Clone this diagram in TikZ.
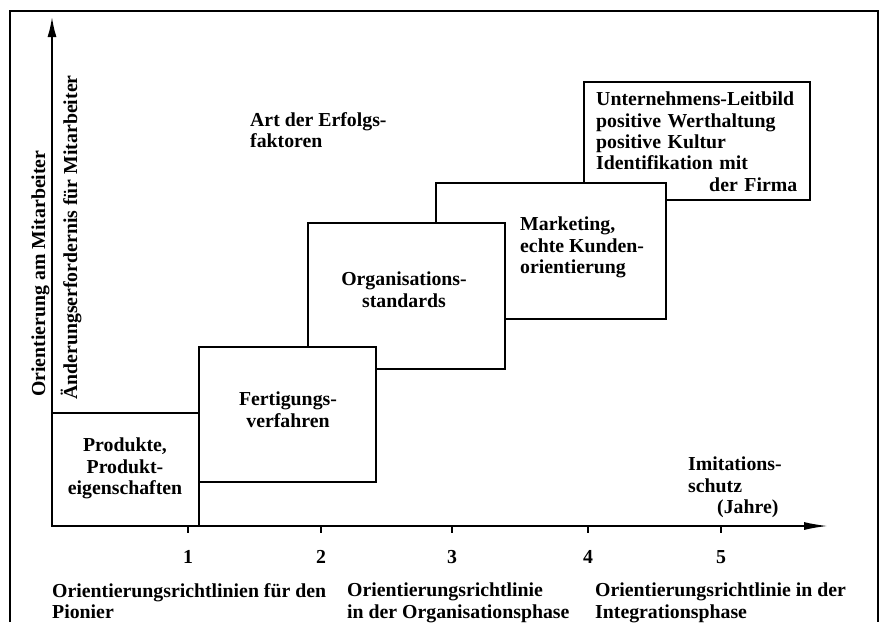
\documentclass[tikz,border=0pt]{standalone}
\usepackage{fontspec}
\setmainfont{Liberation Serif}
\usetikzlibrary{arrows.meta}

\tikzset{
  box/.style={draw, line width=2.1pt, fill=white},
  lbl/.style={inner sep=0pt, font=\fontsize{19.8}{21.3}\selectfont\bfseries},
  axis/.style={line width=1.7pt},
}

\begin{document}
\begin{tikzpicture}[yscale=-1, x=1pt, y=1pt]
    \useasboundingbox (0,0) rectangle (885,622);

    % Define the positions of the axes
    \coordinate (originPos) at (52, 526);
    \coordinate (yEndPos) at (52, 17);
    \coordinate (xEndPos) at (828, 526);
    \coordinate (tick1Pos) at (188, 526);
    \coordinate (tick2Pos) at (321, 526);
    \coordinate (tick3Pos) at (452, 526);
    \coordinate (tick4Pos) at (588, 526);
    \coordinate (tick5Pos) at (721, 526);

    % Draw the frame
    \draw[line width=2.4pt] (10,622) -- (10,11) -- (878,11) -- (878,622);

    % Draw the boxes, back to front
    \draw[box] (584,82) rectangle (810,200);  % Leitbild
    \draw[box] (436,183) rectangle (666,319); % Marketing
    \draw[box] (308,223) rectangle (505,369); % Organisation
    \draw[box] (199,347) rectangle (376,482); % Fertigung
    \draw[box] (52,413) rectangle (199,526);  % Produkte

    % Draw the axes
    \draw[axis, -{Latex[length=20pt,width=9pt]}] (originPos) -- (yEndPos);
    \draw[axis, -{Latex[length=24pt,width=8pt]}] (originPos) -- (xEndPos);
    \draw[axis] (tick1Pos) -- ++(0,7);
    \draw[axis] (tick2Pos) -- ++(0,7);
    \draw[axis] (tick3Pos) -- ++(0,7);
    \draw[axis] (tick4Pos) -- ++(0,7);
    \draw[axis] (tick5Pos) -- ++(0,7);

    % Draw the axis labels
    \node[lbl, rotate=90, anchor=base west] (yOuter) at (45,397) {Orientierung am Mitarbeiter};
    \node[lbl, rotate=90, anchor=base west] (yInner) at (77,400) {Änderungserfordernis für Mitarbeiter};
    \node[lbl, anchor=north west, align=left] (xLabel) at (688,457) {Imitations-\\schutz\\\hspace*{29pt}(Jahre)};
    \node[lbl] (tick1) at ([yshift=31pt]tick1Pos) {1};
    \node[lbl] (tick2) at ([yshift=31pt]tick2Pos) {2};
    \node[lbl] (tick3) at ([yshift=31pt]tick3Pos) {3};
    \node[lbl] (tick4) at ([yshift=31pt]tick4Pos) {4};
    \node[lbl] (tick5) at ([yshift=31pt]tick5Pos) {5};

    % Draw the box labels
    \node[lbl, anchor=north west, align=left] (art) at (250,112) {Art der Erfolgs-\\faktoren};
    \node[lbl, anchor=north, align=center] (produkte) at (125,438) {Produkte,\\Produkt-\\eigenschaften};
    \node[lbl, anchor=north, align=center] (fertigung) at (288,392) {Fertigungs-\\verfahren};
    \node[lbl, anchor=north, align=center] (organisation) at (404,272) {Organisations-\\standards};
    \node[lbl, anchor=north west, align=left] (marketing) at (520,217) {Marketing,\\echte Kunden-\\orientierung};
    \node[lbl, anchor=north west, align=left, text width=201pt] (leitbild) at (596,92)
        {Unternehmens-Leitbild\\positive Werthaltung\\positive Kultur\\Identifikation mit\\\hspace*{\fill}der Firma};

    % Draw the phase labels
    \node[lbl, anchor=north west, align=left] (phase1) at (52,583) {Orientierungsrichtlinien für den\\Pionier};
    \node[lbl, anchor=north west, align=left] (phase2) at (347,583) {Orientierungsrichtlinie\\in der Organisationsphase};
    \node[lbl, anchor=north west, align=left] (phase3) at (595,583) {Orientierungsrichtlinie in der\\Integrationsphase};
\end{tikzpicture}
\end{document}
